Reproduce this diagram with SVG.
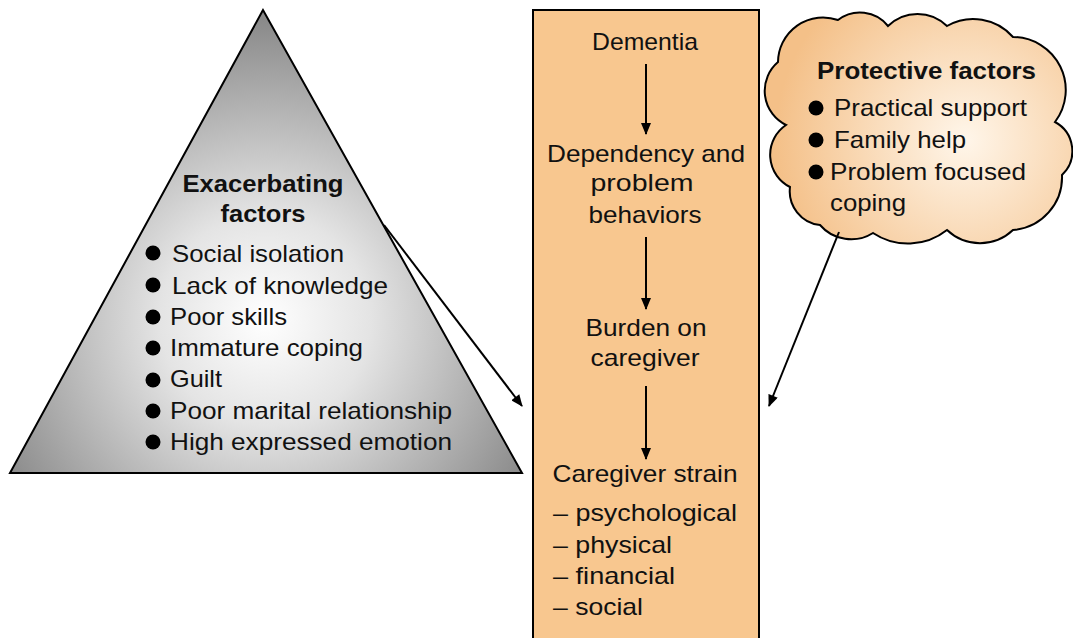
<svg xmlns="http://www.w3.org/2000/svg" width="1073" height="638" viewBox="0 0 1073 638">
<defs>
<radialGradient id="triGrad" gradientUnits="userSpaceOnUse" cx="265" cy="320" r="300">
<stop offset="0" stop-color="#ffffff"/>
<stop offset="0.35" stop-color="#e4e4e4"/>
<stop offset="1" stop-color="#8a8a8a"/>
</radialGradient>
<radialGradient id="cloudGrad" gradientUnits="userSpaceOnUse" cx="965" cy="140" r="190">
<stop offset="0" stop-color="#fff6ea"/>
<stop offset="1" stop-color="#f4c088"/>
</radialGradient>
<marker id="ah" viewBox="0 0 12 10" refX="11" refY="5" markerWidth="13" markerHeight="10" markerUnits="userSpaceOnUse" orient="auto">
<path d="M0,0 L12,5 L0,10 Z" fill="#000"/>
</marker>
</defs>
<style>
text{font-family:"Liberation Sans",Arial,sans-serif;font-size:24px;fill:#111}
.b{font-weight:bold}
.c{text-anchor:middle}
.con{stroke:#000;stroke-width:2;fill:none;marker-end:url(#ah)}
</style>
<rect width="1073" height="638" fill="#fff"/>

<g id="exacerbating">
<polygon points="263,10 10,473 522,473" fill="url(#triGrad)" stroke="#000" stroke-width="2"/>
<text class="b c" x="263" y="192" textLength="161" lengthAdjust="spacingAndGlyphs">Exacerbating</text>
<text class="b c" x="263" y="222" textLength="85" lengthAdjust="spacingAndGlyphs">factors</text>
<g fill="#000">
<circle cx="153" cy="253" r="7.5"/><circle cx="153" cy="285" r="7.5"/><circle cx="153" cy="317" r="7.5"/>
<circle cx="153" cy="348" r="7.5"/><circle cx="153" cy="380" r="7.5"/><circle cx="153" cy="411" r="7.5"/>
<circle cx="153" cy="442" r="7.5"/>
</g>
<text x="172" y="262" textLength="172" lengthAdjust="spacingAndGlyphs">Social isolation</text>
<text x="172" y="294" textLength="216" lengthAdjust="spacingAndGlyphs">Lack of knowledge</text>
<text x="170" y="325" textLength="117" lengthAdjust="spacingAndGlyphs">Poor skills</text>
<text x="170" y="356" textLength="193" lengthAdjust="spacingAndGlyphs">Immature coping</text>
<text x="170" y="387" textLength="52" lengthAdjust="spacingAndGlyphs">Guilt</text>
<text x="170" y="419" textLength="282" lengthAdjust="spacingAndGlyphs">Poor marital relationship</text>
<text x="170" y="450" textLength="282" lengthAdjust="spacingAndGlyphs">High expressed emotion</text>
</g>

<g id="pathway">
<rect x="533" y="10" width="226" height="640" fill="#f8c78f" stroke="#000" stroke-width="2"/>
<text class="c" x="645" y="50" textLength="106" lengthAdjust="spacingAndGlyphs">Dementia</text>
<text class="c" x="646" y="162" textLength="198" lengthAdjust="spacingAndGlyphs">Dependency and</text>
<text class="c" x="642" y="191" textLength="103" lengthAdjust="spacingAndGlyphs">problem</text>
<text class="c" x="645" y="223" textLength="113" lengthAdjust="spacingAndGlyphs">behaviors</text>
<text class="c" x="646" y="336" textLength="121" lengthAdjust="spacingAndGlyphs">Burden on</text>
<text class="c" x="645" y="366" textLength="109" lengthAdjust="spacingAndGlyphs">caregiver</text>
<text class="c" x="645" y="482" textLength="185" lengthAdjust="spacingAndGlyphs">Caregiver strain</text>
<text x="553" y="521" textLength="184" lengthAdjust="spacingAndGlyphs">– psychological</text>
<text x="553" y="553" textLength="119" lengthAdjust="spacingAndGlyphs">– physical</text>
<text x="553" y="584" textLength="122" lengthAdjust="spacingAndGlyphs">– financial</text>
<text x="553" y="615" textLength="90" lengthAdjust="spacingAndGlyphs">– social</text>
</g>

<g id="protective">
<path d="M778,62 A45,45 0 0 1 838,20 A36,36 0 0 1 888,26 A42,42 0 0 1 947,26 A53,53 0 0 1 1013,37 A53,53 0 0 1 1055,122 A33,33 0 0 1 1062,175 A53,53 0 0 1 1013,230 A48,48 0 0 1 947,230 A63,63 0 0 1 873,233 A41,41 0 0 1 820,225 A34,34 0 0 1 790,187 A36,36 0 0 1 786,125 A38,38 0 0 1 778,62 Z" fill="url(#cloudGrad)" stroke="#000" stroke-width="2"/>
<text class="b" x="817" y="79" textLength="219" lengthAdjust="spacingAndGlyphs">Protective factors</text>
<g fill="#000">
<circle cx="816" cy="108" r="7.5"/><circle cx="816" cy="140" r="7.5"/><circle cx="816" cy="172" r="7.5"/>
</g>
<text x="834" y="116" textLength="193" lengthAdjust="spacingAndGlyphs">Practical support</text>
<text x="834" y="148" textLength="132" lengthAdjust="spacingAndGlyphs">Family help</text>
<text x="830" y="180" textLength="196" lengthAdjust="spacingAndGlyphs">Problem focused</text>
<text x="830" y="211" textLength="76" lengthAdjust="spacingAndGlyphs">coping</text>
</g>

<g id="connectors">
<line class="con" x1="646" y1="64" x2="646" y2="134"/>
<line class="con" x1="646" y1="237" x2="646" y2="309"/>
<line class="con" x1="646" y1="386" x2="646" y2="459"/>
<line class="con" x1="384" y1="225" x2="522" y2="406"/>
<line class="con" x1="839" y1="232" x2="769" y2="406"/>
</g>
</svg>
